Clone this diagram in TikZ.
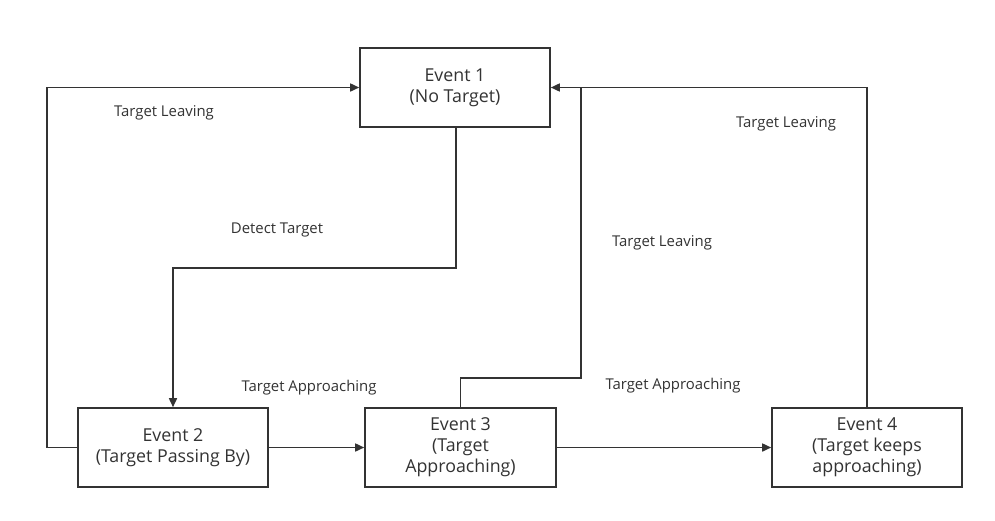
\documentclass[tikz,border=0pt]{standalone}
\usepackage{fontspec}
\setmainfont{Open Sans}
\usetikzlibrary{arrows.meta}
\definecolor{ink}{HTML}{333333}
\begin{document}
\begin{tikzpicture}[x=1pt,y=-1pt,
  evbox/.style={draw=ink,line width=1.6pt,minimum width=190pt,minimum height=79pt,inner sep=0pt,align=center,font=\fontsize{17.8}{21}\selectfont,text=ink},
  lbl/.style={font=\fontsize{14.9}{17}\selectfont,text=ink,inner sep=0pt},
  conn/.style={draw=ink,line width=1.6pt,-{Triangle[length=9pt,width=8pt]}},
  plain/.style={draw=ink,line width=1.6pt}]
\path[use as bounding box,fill=white] (0,0) rectangle (995,520);
\node[evbox] (e1) at (455,87.5) {Event 1\\(No Target)};
\node[evbox] (e2) at (173,447.5) {Event 2\\(Target Passing By)};
\node[evbox,minimum width=191pt] (e3) at (460.5,447.5) {Event 3\\(Target\\Approaching)};
\node[evbox] (e4) at (867,447.5) {Event 4\\(Target keeps\\approaching)};
\coordinate (j) at (581,88);
\draw[conn] (e2.west) -- ++(-30,0) |- (e1.west);
\draw[conn] (e1.south) ++(1,0) coordinate (e1s) -- (456,268) -| (e2.north);
\draw[conn] (e2.east) -- (e3.west);
\draw[conn] (e3.east) -- (e4.west);
\draw[conn] (e4.north) |- (e1.east);
\draw[plain] (e3.north) -- (460.5,378) -| (j);
\node[lbl] (l1) at (164,113) {Target Leaving};
\node[lbl] (l2) at (277,230) {Detect Target};
\node[lbl] (l3) at (309,388) {Target Approaching};
\node[lbl] (l4) at (662,243) {Target Leaving};
\node[lbl] (l5) at (673,386) {Target Approaching};
\node[lbl] (l6) at (786,124) {Target Leaving};
\end{tikzpicture}
\end{document}
